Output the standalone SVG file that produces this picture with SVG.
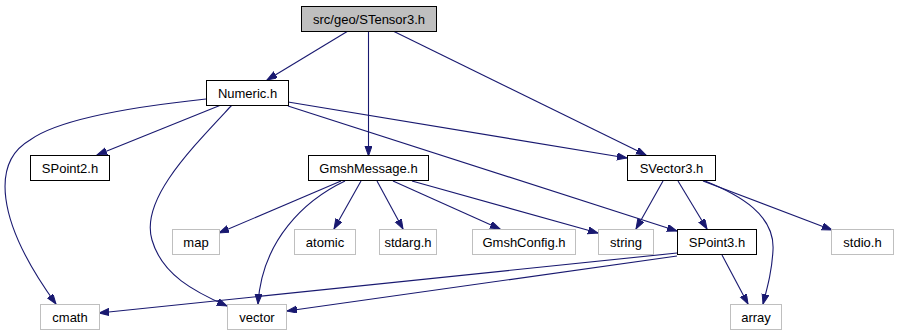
<svg xmlns="http://www.w3.org/2000/svg" width="897" height="336" viewBox="0 0 897 336">
  <defs>
    <marker id="arrow" markerUnits="userSpaceOnUse" markerWidth="11" markerHeight="8" refX="10" refY="3.5" orient="auto">
      <path d="M0,0 L10,3.5 L0,7 z" fill="#191970" stroke="#191970" stroke-width="1"/>
    </marker>
  </defs>
  <style>
    .edge { fill: none; stroke: #191970; stroke-width: 1.1; marker-end: url(#arrow); }
    .box { fill: #ffffff; stroke: #000000; stroke-width: 1; }
    .root { fill: #bfbfbf; stroke: #000000; stroke-width: 1; }
    .sys { fill: #ffffff; stroke: #bfbfbf; stroke-width: 1; }
    text { font-family: "Liberation Sans", Arial, Helvetica, sans-serif; font-size: 13px; fill: #000000; text-anchor: middle; }
  </style>
  <rect width="897" height="336" fill="#ffffff"/>

  <g id="edges">
    <path class="edge" d="M348,31 L267,80"/>
    <path class="edge" d="M368.5,31 L368.5,156"/>
    <path class="edge" d="M393,31 L646,155"/>
    <path class="edge" d="M221,105 L97,155"/>
    <path class="edge" d="M206,99 C140,106 60,118 30,140 C-8,162 -5,220 56,304"/>
    <path class="edge" d="M232,105 C190,150 140,200 152,240 C162,275 195,292 227,306"/>
    <path class="edge" d="M288,102 L627,158"/>
    <path class="edge" d="M288,106 L677,231"/>
    <path class="edge" d="M341,181 L219,233"/>
    <path class="edge" d="M345,181 C305,200 262,240 258,304"/>
    <path class="edge" d="M361,181 L334,229"/>
    <path class="edge" d="M377,181 L403,229"/>
    <path class="edge" d="M393,181 L500,229"/>
    <path class="edge" d="M412,181 L598,233"/>
    <path class="edge" d="M663,181 L636,229"/>
    <path class="edge" d="M678,181 L707,229"/>
    <path class="edge" d="M703,181 L832,230"/>
    <path class="edge" d="M705,181 C740,195 775,215 773,250 C772,270 768,285 763,304"/>
    <path class="edge" d="M722,255 L748,304"/>
    <path class="edge" d="M677,253 L99,313"/>
    <path class="edge" d="M677,256 L287,311"/>
  </g>

  <g id="node-stensor3">
    <rect class="root" x="301.5" y="6.5" width="135" height="25"/>
    <text x="369" y="23.5">src/geo/STensor3.h</text>
  </g>
  <g id="node-numeric">
    <rect class="box" x="206.5" y="80.5" width="82" height="25"/>
    <text x="247.5" y="97.5">Numeric.h</text>
  </g>
  <g id="node-spoint2">
    <rect class="box" x="30.5" y="155.5" width="79" height="25"/>
    <text x="70" y="172.5">SPoint2.h</text>
  </g>
  <g id="node-gmshmessage">
    <rect class="box" x="308.5" y="155.5" width="120" height="25"/>
    <text x="368.5" y="172.5">GmshMessage.h</text>
  </g>
  <g id="node-svector3">
    <rect class="box" x="627.5" y="155.5" width="88" height="25"/>
    <text x="671.5" y="172.5">SVector3.h</text>
  </g>
  <g id="node-map">
    <rect class="sys" x="172.5" y="229.5" width="47" height="25"/>
    <text x="196" y="246.5">map</text>
  </g>
  <g id="node-atomic">
    <rect class="sys" x="294.5" y="229.5" width="61" height="25"/>
    <text x="325" y="246.5">atomic</text>
  </g>
  <g id="node-stdarg">
    <rect class="sys" x="379.5" y="229.5" width="57" height="25"/>
    <text x="408" y="246.5">stdarg.h</text>
  </g>
  <g id="node-gmshconfig">
    <rect class="sys" x="472.5" y="229.5" width="103" height="25"/>
    <text x="524" y="246.5">GmshConfig.h</text>
  </g>
  <g id="node-string">
    <rect class="sys" x="598.5" y="229.5" width="55" height="25"/>
    <text x="626" y="246.5">string</text>
  </g>
  <g id="node-spoint3">
    <rect class="box" x="677.5" y="229.5" width="79" height="25"/>
    <text x="717" y="246.5">SPoint3.h</text>
  </g>
  <g id="node-stdio">
    <rect class="sys" x="831.5" y="229.5" width="62" height="25"/>
    <text x="862.5" y="246.5">stdio.h</text>
  </g>
  <g id="node-cmath">
    <rect class="sys" x="40.5" y="304.5" width="59" height="25"/>
    <text x="70" y="321.5">cmath</text>
  </g>
  <g id="node-vector">
    <rect class="sys" x="227.5" y="304.5" width="59" height="25"/>
    <text x="257" y="321.5">vector</text>
  </g>
  <g id="node-array">
    <rect class="sys" x="730.5" y="304.5" width="51" height="25"/>
    <text x="756" y="321.5">array</text>
  </g>
</svg>
